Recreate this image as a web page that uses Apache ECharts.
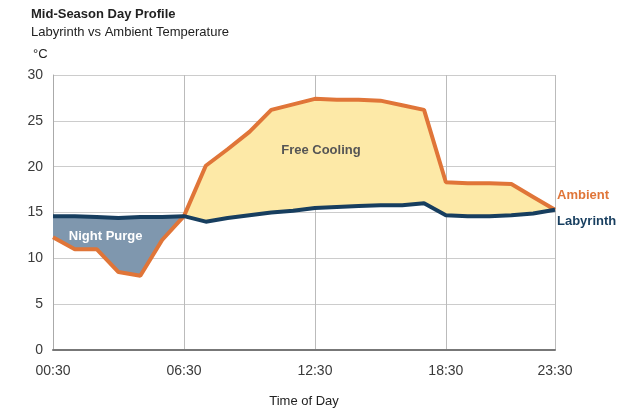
<!DOCTYPE html>
<html><head><meta charset="utf-8">
<script src="https://cdn.jsdelivr.net/npm/echarts@6/dist/echarts.min.js"></script>
<style>html,body{margin:0;padding:0;background:#fff}#c{width:619px;height:419px}</style>
</head><body><div id="c"></div>
<script>
const categories = ['00:30','01:30','02:30','03:30','04:30','05:30','06:30','07:30','08:30','09:30','10:30','11:30','12:30','13:30','14:30','15:30','16:30','17:30','18:30','19:30','20:30','21:30','22:30','23:30'];
const ambient   = [12.3,11.0,11.0,8.5,8.1,12.0,14.6,20.1,21.9,23.8,26.2,26.8,27.4,27.3,27.3,27.2,26.7,26.2,18.3,18.2,18.2,18.1,16.7,15.3];
const labyrinth = [14.6,14.6,14.5,14.4,14.5,14.5,14.6,14.0,14.4,14.7,15.0,15.2,15.5,15.6,15.7,15.8,15.8,16.0,14.7,14.6,14.6,14.7,14.9,15.3];
const yTicks = [0,5,10,15,20,25,30];
const shownTicks = ['00:30','06:30','12:30','18:30','23:30'];

const FONT = '"Liberation Sans", Arial, sans-serif';
const base = ambient.map((a,i)=>Math.min(a,labyrinth[i]));
const nightGap = ambient.map((a,i)=>Math.max(labyrinth[i]-a,0));
const coolGap = ambient.map((a,i)=>Math.max(a-labyrinth[i],0));
const showIdx = (i)=>shownTicks.includes(categories[i]);

const chart = echarts.init(document.getElementById('c'), null, {renderer:'canvas'});
chart.setOption({
  animation:false,
  textStyle:{fontFamily:FONT},
  title:[
    {text:'Mid-Season Day Profile', left:26, top:3, textStyle:{fontFamily:FONT,fontSize:13,fontWeight:'bold',color:'#222'}},
    {text:'Labyrinth vs Ambient Temperature', left:26, top:21, textStyle:{fontFamily:FONT,fontSize:13,fontWeight:'normal',color:'#222'}},
    {text:'°C', left:28, top:43, textStyle:{fontFamily:FONT,fontSize:13,fontWeight:'normal',color:'#222'}}
  ],
  grid:{left:53,right:64,top:75,bottom:69},
  xAxis:{
    type:'category', data:categories, boundaryGap:false,
    name:'Time of Day', nameLocation:'middle', nameGap:45,
    nameTextStyle:{fontFamily:FONT,fontSize:13,color:'#222'},
    axisLine:{lineStyle:{color:'#777',width:2}},
    axisTick:{show:false},
    axisLabel:{interval:(i)=>showIdx(i), fontFamily:FONT,fontSize:14,color:'#3a3a3a',margin:14},
    splitLine:{show:true, interval:(i)=>showIdx(i) && i>0, lineStyle:{color:'#bbb',width:1}}
  },
  yAxis:{
    type:'value', min:yTicks[0], max:yTicks[yTicks.length-1], interval:5,
    axisLine:{show:true,lineStyle:{color:'#aaa',width:1}},
    axisTick:{show:false},
    axisLabel:{fontFamily:FONT,fontSize:14,color:'#3a3a3a',margin:10},
    splitLine:{lineStyle:{color:'#ccc',width:1}}
  },
  series:[
    {name:'base',type:'line',stack:'f',data:base,symbol:'none',silent:true,lineStyle:{width:0,opacity:0}},
    {name:'night',type:'line',stack:'f',data:nightGap,symbol:'none',silent:true,lineStyle:{width:0,opacity:0},
      areaStyle:{color:'#7f97ae',opacity:1},
      markPoint:{symbol:'circle',symbolSize:0,silent:true,
        data:[{coord:['02:30',12.4],label:{show:true,position:'inside',offset:[9,0],formatter:'Night Purge',color:'#fff',fontFamily:FONT,fontSize:13,fontWeight:'bold'}}]}},
    {name:'cool',type:'line',stack:'f',data:coolGap,symbol:'none',silent:true,lineStyle:{width:0,opacity:0},
      areaStyle:{color:'#fde9a7',opacity:1},
      markPoint:{symbol:'circle',symbolSize:0,silent:true,
        data:[{coord:['12:30',21.8],label:{show:true,position:'inside',offset:[6,0],formatter:'Free Cooling',color:'#555',fontFamily:FONT,fontSize:13,fontWeight:'bold'}}]}},
    {name:'Ambient',type:'line',data:ambient,symbol:'none',lineStyle:{color:'#e07538',width:4},
      endLabel:{show:true,formatter:'Ambient',color:'#e07538',fontFamily:FONT,fontSize:13,fontWeight:'bold',distance:2,offset:[0,-14]}},
    {name:'Labyrinth',type:'line',data:labyrinth,symbol:'none',lineStyle:{color:'#173e5f',width:4},
      endLabel:{show:true,formatter:'Labyrinth',color:'#173e5f',fontFamily:FONT,fontSize:13,fontWeight:'bold',distance:2,offset:[0,12]}}
  ]
});
</script></body></html>
